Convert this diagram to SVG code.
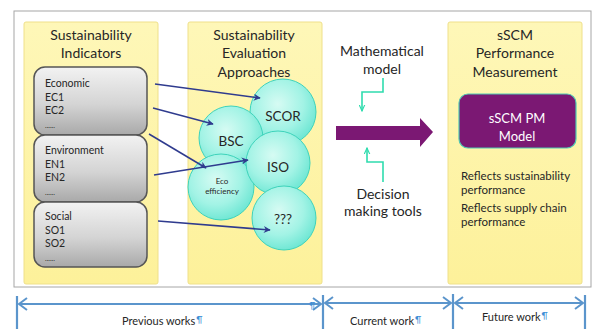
<svg xmlns="http://www.w3.org/2000/svg" width="594" height="329" viewBox="0 0 594 329">
<defs>
<linearGradient id="gBox" x1="0" y1="0" x2="0" y2="1">
<stop offset="0" stop-color="#f2f2f2"/>
<stop offset="0.55" stop-color="#d4d4d4"/>
<stop offset="1" stop-color="#a9a9a9"/>
</linearGradient>
<radialGradient id="gCirc" cx="0.42" cy="0.38" r="0.65">
<stop offset="0" stop-color="#d6fbf3"/>
<stop offset="0.6" stop-color="#a2f3e5"/>
<stop offset="1" stop-color="#6ce6d3"/>
</radialGradient>
<linearGradient id="gPanel" x1="0" y1="0" x2="0" y2="1">
<stop offset="0" stop-color="#fef7b8"/>
<stop offset="1" stop-color="#fdf19a"/>
</linearGradient>
<marker id="mNavy" viewBox="0 0 10 10" refX="9" refY="5" markerWidth="7" markerHeight="7" orient="auto" markerUnits="userSpaceOnUse">
<path d="M0,0 L10,5 L0,10 L3,5 Z" fill="#2f3b8e"/>
</marker>
<marker id="mTeal" viewBox="0 0 10 10" refX="9" refY="5" markerWidth="7" markerHeight="7" orient="auto" markerUnits="userSpaceOnUse">
<path d="M0,1 L9,5 L0,9" fill="none" stroke="#2fdcae" stroke-width="1.6"/>
</marker>
<marker id="mBlue" viewBox="0 0 10 14" refX="9" refY="7" markerWidth="10" markerHeight="14" orient="auto-start-reverse" markerUnits="userSpaceOnUse">
<path d="M1,1 L9,7 L1,13" fill="none" stroke="#5b95cc" stroke-width="2"/>
</marker>
</defs>
<style>
text{font-family:Lato,"Open Sans","Liberation Sans",sans-serif;fill:#262626}
.hd{font-size:14px;text-anchor:middle}
.bx{font-size:10.5px}
.ci{font-size:13.5px;text-anchor:middle}
.panel{fill:url(#gPanel);stroke:#efe08a;stroke-width:1}
.ind{fill:url(#gBox);stroke:#555;stroke-width:1.5}
.circ{fill:url(#gCirc);stroke:#3ed3bb;stroke-width:1}
.nv{stroke:#2f3b8e;stroke-width:1.5;fill:none;marker-end:url(#mNavy)}
.tl{stroke:#5b95cc;stroke-width:2.2;fill:none}
.pil{fill:#3f8fd6;font-size:9px}
.sm{font-size:11px}
.rf{font-size:11.5px}
</style>
<rect x="0" y="0" width="594" height="329" fill="#ffffff"/>
<rect id="frame" x="14" y="11" width="577" height="276" fill="#ffffff" stroke="#a6a6a6" stroke-width="1"/>

<g id="panel-indicators">
<rect class="panel" x="24" y="22" width="134" height="262" rx="2"/>
<text class="hd" x="91" y="40">Sustainability</text>
<text class="hd" x="91" y="58">Indicators</text>
</g>
<g id="box-economic">
<rect class="ind" x="34" y="67" width="113" height="68" rx="11"/>
<text class="bx" x="45" y="87">Economic</text>
<text class="bx" x="45" y="101">EC1</text>
<text class="bx" x="45" y="114">EC2</text>
<text class="bx" x="45" y="128" style="font-size:7px">......</text>
</g>
<g id="box-environment">
<rect class="ind" x="34" y="135" width="113" height="67" rx="11"/>
<text class="bx" x="45" y="154">Environment</text>
<text class="bx" x="45" y="168">EN1</text>
<text class="bx" x="45" y="181">EN2</text>
<text class="bx" x="45" y="195" style="font-size:7px">......</text>
</g>
<g id="box-social">
<rect class="ind" x="34" y="202" width="113" height="65" rx="11"/>
<text class="bx" x="45" y="220">Social</text>
<text class="bx" x="45" y="234">SO1</text>
<text class="bx" x="45" y="247">SO2</text>
<text class="bx" x="45" y="261" style="font-size:7px">......</text>
</g>

<g id="panel-approaches">
<rect class="panel" x="188" y="22" width="134" height="262" rx="2"/>
<text class="hd" x="254" y="40">Sustainability</text>
<text class="hd" x="254" y="58">Evaluation</text>
<text class="hd" x="254" y="77">Approaches</text>
</g>
<g id="c-scor">
<circle class="circ" cx="283" cy="112" r="33"/>
<text class="ci" x="283" y="121">SCOR</text>
</g>
<g id="c-bsc">
<circle class="circ" cx="231" cy="138" r="32"/>
<text class="ci" x="231" y="146">BSC</text>
</g>
<g id="c-eco">
<circle class="circ" cx="221" cy="187" r="33"/>
<text x="222" y="184" style="font-size:8px;text-anchor:middle">Eco</text>
<text x="222" y="194" style="font-size:8px;text-anchor:middle">efficiency</text>
</g>
<g id="c-iso">
<circle class="circ" cx="278" cy="163" r="32"/>
<text class="ci" x="278" y="172">ISO</text>
</g>
<g id="c-unknown">
<circle class="circ" cx="284" cy="218" r="32"/>
<text class="ci" x="283" y="224">???</text>
</g>

<g id="middle">
<text class="hd" x="382" y="56">Mathematical</text>
<text class="hd" x="382" y="74">model</text>
<text class="hd" x="383" y="199">Decision</text>
<text class="hd" x="383" y="216">making tools</text>
<path d="M336,126 H420 V118 L433,132 L420,147 V140 H336 Z" fill="#7b1873"/>
</g>

<g id="panel-sscm">
<rect class="panel" x="448" y="22" width="134" height="262" rx="2"/>
<text class="hd" x="515" y="40">sSCM</text>
<text class="hd" x="515" y="58">Performance</text>
<text class="hd" x="515" y="77">Measurement</text>
<text class="rf" x="461" y="180">Reflects sustainability</text>
<text class="rf" x="461" y="194">performance</text>
<text class="rf" x="461" y="212">Reflects supply chain</text>
<text class="rf" x="461" y="226">performance</text>
</g>
<g id="sscm-model">
<rect x="459" y="94" width="117" height="54" rx="9" fill="#7b1873" stroke="#4fc7b2" stroke-width="1.2"/>
<text x="517" y="123" style="font-size:13px;text-anchor:middle;fill:#ffffff">sSCM PM</text>
<text x="517" y="141" style="font-size:13px;text-anchor:middle;fill:#ffffff">Model</text>
</g>

<g id="connectors">
<path class="nv" d="M155,84 L260,98"/>
<path class="nv" d="M153,108 L213,124"/>
<path class="nv" d="M149,134 L206,168"/>
<path class="nv" d="M154,175 L248,160"/>
<path class="nv" d="M158,221 L270,230"/>
<path d="M383,78 V92 H362 V111" fill="none" stroke="#2fdcae" stroke-width="1.6" marker-end="url(#mTeal)"/>
<path d="M383,182 V162 H367 V148" fill="none" stroke="#2fdcae" stroke-width="1.6" marker-end="url(#mTeal)"/>
</g>

<g id="timeline">
<path class="tl" d="M17,296 V329 M323,295 V329 M453,294 V329 M585,295 V329"/>
<path class="tl" d="M19,304 H321" marker-start="url(#mBlue)" marker-end="url(#mBlue)"/>
<path class="tl" d="M325,303 H451" marker-start="url(#mBlue)" marker-end="url(#mBlue)"/>
<path class="tl" d="M455,303 H583" marker-start="url(#mBlue)" marker-end="url(#mBlue)"/>
<text class="pil" x="309" y="309">¶</text>
<text class="sm" x="122" y="325">Previous works<tspan class="pil" dx="1" dy="-2">¶</tspan></text>
<text class="sm" x="350" y="325">Current work<tspan class="pil" dx="1" dy="-2">¶</tspan></text>
<text class="sm" x="482" y="321">Future work<tspan class="pil" dx="1" dy="-2">¶</tspan></text>
</g>
</svg>
